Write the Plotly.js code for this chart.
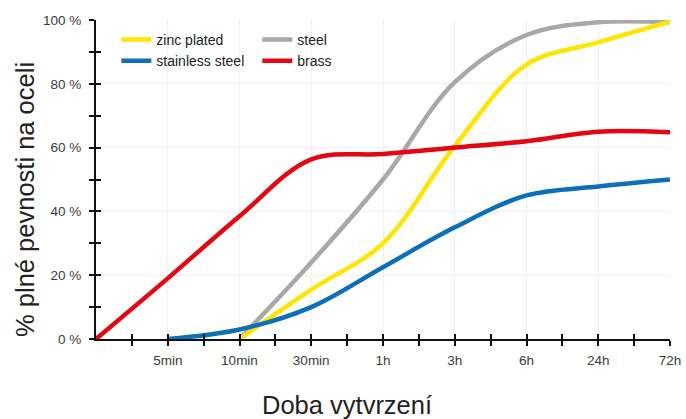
<!DOCTYPE html>
<html>
<head>
<meta charset="utf-8">
<script src="https://cdn.plot.ly/plotly-3.0.1.min.js"></script>
<style>html,body{margin:0;padding:0;background:#fff}#chart{width:686px;height:419px}</style>
</head>
<body>
<div id="chart"></div>
<script>
// Category labels (position 0 is the unlabeled origin)
const timeLabels = ['', '5min', '10min', '30min', '1h', '3h', '6h', '24h', '72h'];
// Series values (% of full strength), null = not started
const zincPlated     = [null, null, 0, 15.5, 30, 60.5, 86, 93, 99.5];
const steel          = [null, null, 0, 24, 50, 80.5, 95.3, 99.3, 99.3];
const stainlessSteel = [null, 0, 3, 10, 22.5, 35, 45, 47.8, 50];
const brass          = [0, 19, 38.5, 56.3, 58, 60, 62, 65, 64.8];
const yMajorTicks    = [0, 20, 40, 60, 80, 100];
const yMinorTicks    = [10, 30, 50, 70, 90];
const xTitle = 'Doba vytvrzení';
const yTitle = '% plné pevnosti na oceli';

const xPos = timeLabels.map((_, i) => i);
const xMajorVals = xPos.slice(1);
const xMajorText = timeLabels.slice(1);
const xMinorVals = xPos.slice(0, -1).map(v => v + 0.5);
const yMajorText = yMajorTicks.map(v => v + ' %');

function tr(name, y, color, legend) {
  return {
    x: xPos, y: y, name: name, type: 'scatter', mode: 'lines',
    line: {color: color, width: 4.5, shape: 'spline', smoothing: 1},
    connectgaps: false, legend: legend, hoverinfo: 'skip'
  };
}
const data = [
  tr('steel', steel, '#a8a8a8', 'legend2'),
  tr('zinc plated', zincPlated, '#ffe500', 'legend'),
  tr('stainless steel', stainlessSteel, '#0c6fba', 'legend'),
  tr('brass', brass, '#e30613', 'legend2'),
  {x: [null], y: [null], xaxis: 'x2', yaxis: 'y2', showlegend: false, type: 'scatter', mode: 'markers'}
];
const tickFont = {family: 'Liberation Sans, Arial, sans-serif', size: 13.5, color: '#3a3a3a'};
const tk = {ticklen: 5, tickwidth: 2, tickcolor: '#111'};
const layout = {
  width: 686, height: 419,
  margin: {l: 96, r: 16, t: 20, b: 80},
  paper_bgcolor: '#fff', plot_bgcolor: '#fff',
  font: {family: 'Liberation Sans, Arial, sans-serif', color: '#222'},
  xaxis: Object.assign({
    range: [0, 8], tickmode: 'array', tickvals: xMajorVals, ticktext: xMajorText,
    ticks: 'outside',
    minor: Object.assign({tickmode: 'array', tickvals: xMinorVals, ticks: 'outside', showgrid: false}, tk),
    showline: true, linecolor: '#111', linewidth: 2,
    showgrid: true, gridcolor: '#efefef', gridwidth: 1,
    zeroline: false, tickfont: tickFont, ticklabelstandoff: 3
  }, tk),
  yaxis: Object.assign({
    range: [0, 100], tickmode: 'array', tickvals: yMajorTicks, ticktext: yMajorText,
    ticks: 'outside',
    minor: Object.assign({tickmode: 'array', tickvals: yMinorTicks, ticks: 'outside', showgrid: false}, tk),
    showline: true, linecolor: '#111', linewidth: 2,
    showgrid: true, gridcolor: '#efefef', gridwidth: 1,
    zeroline: false, tickfont: tickFont, ticklabelstandoff: 5
  }, tk),
  xaxis2: Object.assign({
    overlaying: 'x', anchor: 'y2', range: [0, 8], tickmode: 'array', tickvals: xMajorVals.concat(xMinorVals),
    ticks: 'inside', showticklabels: false, showline: false, zeroline: false, showgrid: false
  }, tk),
  yaxis2: Object.assign({
    overlaying: 'y', anchor: 'x2', range: [0, 100], tickmode: 'array', tickvals: yMajorTicks.concat(yMinorTicks),
    ticks: 'inside', showticklabels: false, showline: false, zeroline: false, showgrid: false
  }, tk),
  annotations: [
    {text: xTitle, xref: 'paper', yref: 'paper', x: 0.437, y: -0.207, xanchor: 'center', yanchor: 'middle',
     showarrow: false, font: {size: 25.5, color: '#222'}},
    {text: yTitle, xref: 'paper', yref: 'paper', x: -0.1237, y: 0.439, xanchor: 'center', yanchor: 'middle',
     textangle: -90, showarrow: false, font: {size: 25.5, color: '#222'}}
  ],
  legend: {
    x: 0.0354, y: 0.988, xanchor: 'left', yanchor: 'top', orientation: 'v',
    bgcolor: 'rgba(0,0,0,0)', font: {size: 14, color: '#222'},
    tracegroupgap: 0, itemwidth: 30, traceorder: 'normal'
  },
  legend2: {
    x: 0.281, y: 0.988, xanchor: 'left', yanchor: 'top', orientation: 'v',
    bgcolor: 'rgba(0,0,0,0)', font: {size: 14, color: '#222'},
    tracegroupgap: 0, itemwidth: 30, traceorder: 'normal'
  },
  showlegend: true
};
Plotly.newPlot('chart', data, layout, {displayModeBar: false, staticPlot: true});
</script>
</body>
</html>
